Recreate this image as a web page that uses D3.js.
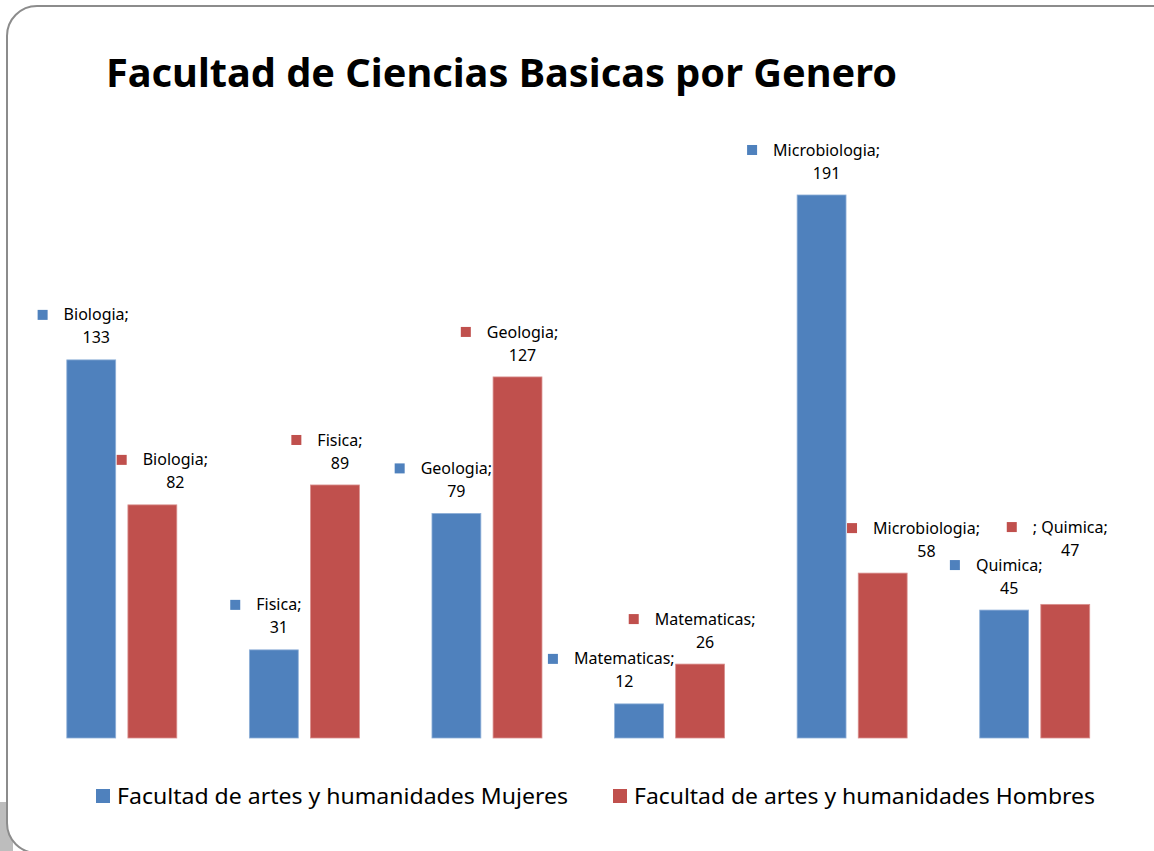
<!DOCTYPE html>
<html>
<head>
<meta charset="utf-8">
<script src="https://cdn.jsdelivr.net/npm/d3@7"></script>
<style>
  body { margin: 0; background: #fff; }
  svg { display: block; font-family: "Noto Sans", "Liberation Sans", sans-serif; }
</style>
</head>
<body>
<script>
// DATA
var categories = ["Biologia", "Fisica", "Geologia", "Matematicas", "Microbiologia", "Quimica"];
var mujeres = [133, 31, 79, 12, 191, 45];
var hombres = [82, 89, 127, 26, 58, 47];
var mujeresLabels = ["Biologia;", "Fisica;", "Geologia;", "Matematicas;", "Microbiologia;", "Quimica;"];
var hombresLabels = ["Biologia;", "Fisica;", "Geologia;", "Matematicas;", "Microbiologia;", "; Quimica;"];
var seriesNames = ["Facultad de artes y humanidades Mujeres", "Facultad de artes y humanidades Hombres"];
var colors = ["#4F81BD", "#C0504D"];

var w = 1154, h = 851;
var svg = d3.select("body").append("svg").attr("width", w).attr("height", h);

// slide frame + shadow bit bottom left
svg.append("rect").attr("x", 0).attr("y", 802).attr("width", 13).attr("height", 49).attr("fill", "#bdbdbd");
svg.append("rect")
  .attr("x", 7).attr("y", 6).attr("width", 1180).attr("height", 847)
  .attr("rx", 30).attr("ry", 30)
  .attr("fill", "#fff").attr("stroke", "#8c8c8c").attr("stroke-width", 2);

// title
svg.append("text")
  .attr("x", 106).attr("y", 87)
  .attr("font-size", 39).attr("font-weight", "bold").attr("fill", "#000")
  .attr("textLength", 791).attr("lengthAdjust", "spacingAndGlyphs")
  .text("Facultad de Ciencias Basicas por Genero");

// scales
var x0 = d3.scaleBand().domain(categories).range([30.5, 1126]).padding(0);
var x1 = d3.scaleBand().domain([0, 1]).range([36.3, 146.3]).paddingInner(0.2);
var y = d3.scaleLinear().domain([0, 200]).range([738, 169.4]);

var rows = [];
categories.forEach(function(c, i) {
  rows.push({cat: c, s: 0, v: mujeres[i], label: mujeresLabels[i]});
  rows.push({cat: c, s: 1, v: hombres[i], label: hombresLabels[i]});
});
rows.forEach(function(d) {
  d.x = x0(d.cat) + x1(d.s);
  d.top = y(d.v);
});

// bars
svg.append("g").selectAll("rect")
  .data(rows)
  .join("rect")
  .attr("x", function(d) { return d.x; })
  .attr("y", function(d) { return d.top; })
  .attr("width", x1.bandwidth())
  .attr("height", function(d) { return y(0) - d.top; })
  .attr("fill", function(d) { return colors[d.s]; })
  .attr("stroke", function(d) { return d.s ? "#d9908e" : "#8fb0d8"; })
  .attr("stroke-width", 0.8);

// data labels: marker + "name;" then value below
var lab = svg.append("g").selectAll("g")
  .data(rows)
  .join("g");

lab.append("text")
  .attr("class", "name")
  .attr("x", 0).attr("y", -45).attr("dy", "0.35em")
  .attr("text-anchor", "middle")
  .attr("font-size", 16).attr("fill", "#000")
  .text(function(d) { return d.label; });

lab.append("text")
  .attr("x", 0).attr("y", -22).attr("dy", "0.35em")
  .attr("text-anchor", "middle")
  .attr("font-size", 16).attr("fill", "#000")
  .text(function(d) { return d.v; });

lab.each(function(d) {
  var g = d3.select(this);
  d.tw = g.select("text.name").node().getComputedTextLength();
  g.append("rect")
    .attr("x", -d.tw / 2 - 26).attr("y", -50)
    .attr("width", 10).attr("height", 10)
    .attr("fill", colors[d.s]);
});

// simple placement: keep labels off the bars and off each other
var bw = x1.bandwidth();
var placed = [];
rows.forEach(function(d) {
  d.cx = d.x + bw / 2 + 5;
  d.cy = d.top;
  function box() {
    return {l: d.cx - d.tw / 2 - 26, r: d.cx + d.tw / 2, t: d.cy - 52, b: d.cy - 16};
  }
  rows.forEach(function(o) {
    if (o === d) return;
    var bb = box();
    var ol = o.x, or = o.x + bw;
    if (bb.r > ol && bb.l < or && bb.b > o.top) {
      if (o.x > d.x) d.cx -= bb.r - ol + 1;
      else d.cx += or - bb.l + 1;
    }
  });
  placed.forEach(function(p) {
    var bb = box();
    if (bb.r > p.l && bb.l < p.r && bb.b > p.t && bb.t < p.b) d.cy -= bb.b - p.t + 2;
  });
  placed.push(box());
});

lab.attr("transform", function(d) { return "translate(" + d.cx + "," + d.cy + ")"; });

// legend
var legX = [96, 613];
var legW = [451, 461];
var leg = svg.append("g").selectAll("g")
  .data(seriesNames)
  .join("g")
  .attr("transform", function(d, i) { return "translate(" + legX[i] + ",789)"; });
leg.append("rect").attr("width", 14).attr("height", 14)
  .attr("fill", function(d, i) { return colors[i]; });
leg.append("text")
  .attr("x", 21).attr("y", 15)
  .attr("font-size", 22).attr("fill", "#000")
  .attr("textLength", function(d, i) { return legW[i]; })
  .attr("lengthAdjust", "spacingAndGlyphs")
  .text(function(d) { return d; });
</script>
</body>
</html>
